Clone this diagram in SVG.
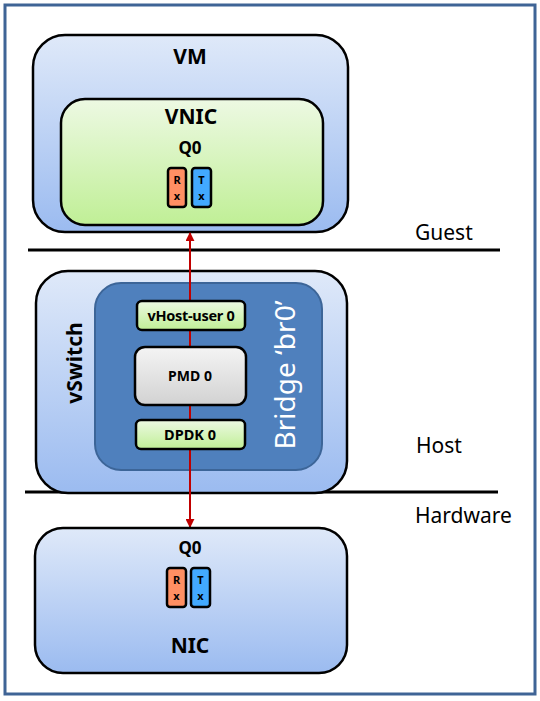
<svg xmlns="http://www.w3.org/2000/svg" width="540" height="701" viewBox="0 0 540 701">
<defs>
<linearGradient id="blue" x1="0" y1="0" x2="0" y2="1"><stop offset="0" stop-color="#dfe9f9"/><stop offset="1" stop-color="#9bbbf0"/></linearGradient>
<linearGradient id="green" x1="0" y1="0" x2="0" y2="1"><stop offset="0" stop-color="#edf9e3"/><stop offset="1" stop-color="#c0ef96"/></linearGradient>
<linearGradient id="grey" x1="0" y1="0" x2="0" y2="1"><stop offset="0" stop-color="#f4f4f4"/><stop offset="1" stop-color="#d2d2d2"/></linearGradient>
<marker id="ah" viewBox="0 0 10 10" refX="9" refY="5" markerWidth="4.5" markerHeight="4.5" orient="auto-start-reverse" markerUnits="strokeWidth"><path d="M0,0 L10,5 L0,10 z" fill="#c00000"/></marker>
<style>
.box{stroke:#000;stroke-width:2.5}
.t{font-family:"Noto Sans","Open Sans","DejaVu Sans",sans-serif;fill:#000;text-anchor:middle}
.b{font-weight:bold}
.lbl{font-family:"Noto Sans","Open Sans","DejaVu Sans",sans-serif;font-size:21px;fill:#000}
.rx{fill:#ff8f63;stroke:#000;stroke-width:2.5}
.tx{fill:#42a9ff;stroke:#000;stroke-width:2.5}
.q{font-size:11px;font-weight:bold}
</style>
</defs>
<rect x="5" y="5" width="530" height="689" fill="#fff" stroke="#3f6496" stroke-width="3"/>
<g id="layers">
<line x1="28" y1="250" x2="500" y2="250" stroke="#000" stroke-width="3"/>
<line x1="25" y1="492" x2="498" y2="492" stroke="#000" stroke-width="3"/>
<text class="lbl" x="415" y="240">Guest</text>
<text class="lbl" x="416" y="453">Host</text>
<text class="lbl" x="415" y="523">Hardware</text>
</g>
<g id="vm">
<rect class="box" x="33" y="35" width="315" height="197" rx="32" fill="url(#blue)"/>
<text class="t b" x="190" y="64" font-size="21">VM</text>
</g>
<g id="vnic">
<rect class="box" x="61" y="99" width="262" height="126" rx="24" fill="url(#green)"/>
<text class="t b" x="191" y="124" font-size="21">VNIC</text>
<text class="t b" x="190" y="154" font-size="17">Q0</text>
<rect class="rx" x="168" y="168" width="18" height="39" rx="3"/>
<rect class="tx" x="192" y="168" width="19" height="39" rx="3"/>
<text class="t q" x="177" y="184">R</text><text class="t q" x="177" y="200">x</text>
<text class="t q" x="201.5" y="184">T</text><text class="t q" x="201.5" y="200">x</text>
</g>
<g id="vswitch">
<rect class="box" x="36" y="271" width="311" height="222" rx="32" fill="url(#blue)"/>
<text class="t b" x="0" y="0" font-size="21" transform="translate(82,363) rotate(-90)">vSwitch</text>
</g>
<g id="bridge">
<rect x="95" y="283" width="227" height="187" rx="26" fill="#4f80bd" stroke="#3c6598" stroke-width="2"/>
<text x="0" y="0" font-family="Noto Sans, Open Sans, sans-serif" font-size="28" fill="#fff" text-anchor="middle" transform="translate(295,375) rotate(-90)">Bridge ‘br0’</text>
</g>
<g id="connectors">
<line x1="190" y1="233" x2="190" y2="527" stroke="#c00000" stroke-width="2" marker-start="url(#ah)" marker-end="url(#ah)"/>
</g>
<g id="vhost">
<rect class="box" x="137" y="301" width="108" height="29" rx="5" fill="url(#green)"/>
<text class="t b" x="191" y="321" font-size="14.5" letter-spacing="-0.3">vHost-user 0</text>
</g>
<g id="pmd">
<rect class="box" x="135" y="347" width="111" height="58" rx="10" fill="url(#grey)"/>
<text class="t b" x="190" y="381" font-size="14">PMD 0</text>
</g>
<g id="dpdk">
<rect class="box" x="136" y="420" width="109" height="29" rx="5" fill="url(#green)"/>
<text class="t b" x="190" y="440" font-size="14.5">DPDK 0</text>
</g>
<g id="nic">
<rect class="box" x="35" y="528" width="312" height="145" rx="28" fill="url(#blue)"/>
<text class="t b" x="190" y="554" font-size="17">Q0</text>
<rect class="rx" x="167" y="568" width="19" height="39" rx="3"/>
<rect class="tx" x="191" y="568" width="19" height="39" rx="3"/>
<text class="t q" x="176.5" y="584">R</text><text class="t q" x="176.5" y="600">x</text>
<text class="t q" x="200.5" y="584">T</text><text class="t q" x="200.5" y="600">x</text>
<text class="t b" x="190" y="653" font-size="21">NIC</text>
</g>
</svg>
